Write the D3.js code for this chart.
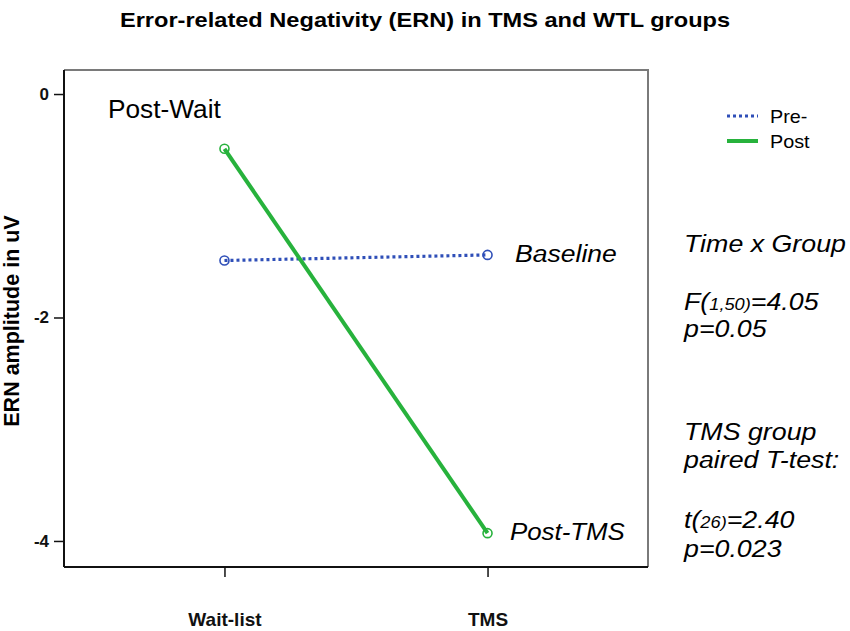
<!DOCTYPE html>
<html>
<head>
<meta charset="utf-8">
<script src="https://cdn.jsdelivr.net/npm/d3@7/dist/d3.min.js"></script>
<style>
  body { margin: 0; background: #fff; }
  svg { display: block; font-family: "Liberation Sans", Arial, Helvetica, sans-serif; }
</style>
</head>
<body>
<svg id="chart" width="850" height="631"></svg>
<script>
// data
var categories = ["Wait-list", "TMS"];
var preValues = [-1.49, -1.44];
var postValues = [-0.49, -3.93];
var yTicks = [0, -2, -4];

var series = [
  { name: "Pre-", values: preValues, color: "#2f4fb8", dash: "3,3", width: 3.2 },
  { name: "Post", values: postValues, color: "#27b23c", dash: null, width: 4 }
];

var svg = d3.select("#chart");
var frame = { left: 64, right: 648, top: 70, bottom: 567 };

var x = d3.scalePoint()
  .domain(categories)
  .range([frame.left, frame.right])
  .padding(0.61);

var y = d3.scaleLinear()
  .domain([-4.233, 0.215])
  .range([frame.bottom, frame.top]);

// text drawn with a slight horizontal stretch, like the source figure
var stretchText = function(g, px, py, sx, str) {
  return g.append("text")
    .attr("transform", "translate(" + px + "," + py + ") scale(" + sx + ",1)")
    .text(str);
};

// title
stretchText(svg, 425, 27, 1.18, "Error-related Negativity (ERN) in TMS and WTL groups")
  .attr("text-anchor", "middle")
  .attr("font-weight", "bold")
  .attr("font-size", 20);

// grey box on top/right
svg.append("path")
  .attr("d", "M" + frame.left + "," + frame.top + "H" + frame.right + "V" + frame.bottom)
  .attr("fill", "none")
  .attr("stroke", "#7a7a7a")
  .attr("stroke-width", 2);

// axes
var yAxis = d3.axisLeft(y).tickValues(yTicks).tickSize(10).tickPadding(5)
  .tickFormat(function(d) { return String(d); });   // plain hyphen, as in the source
var gy = svg.append("g")
  .attr("transform", "translate(" + frame.left + ",0)")
  .call(yAxis);
gy.select(".domain").attr("d", "M0," + frame.top + "V" + frame.bottom)
  .attr("stroke", "#111").attr("stroke-width", 2);
gy.selectAll(".tick line").attr("stroke", "#111").attr("stroke-width", 1.5);
gy.selectAll(".tick text")
  .attr("font-size", 17)
  .attr("font-weight", "bold")
  .attr("fill", "#111")
  .attr("font-family", "\"Liberation Sans\", Arial, sans-serif");

var xAxis = d3.axisBottom(x).tickSize(10).tickPadding(36);
var gx = svg.append("g")
  .attr("transform", "translate(0," + frame.bottom + ")")
  .call(xAxis);
gx.select(".domain").attr("d", "M" + frame.left + ",0H" + frame.right)
  .attr("stroke", "#111").attr("stroke-width", 2);
gx.selectAll(".tick line").attr("stroke", "#111").attr("stroke-width", 1.5);
gx.selectAll(".tick text")
  .attr("font-size", 19)
  .attr("font-weight", "bold")
  .attr("fill", "#111")
  .attr("font-family", "\"Liberation Sans\", Arial, sans-serif");

// y axis title
svg.append("text")
  .attr("transform", "translate(19,321) rotate(-90)")
  .attr("text-anchor", "middle")
  .attr("font-weight", "bold")
  .attr("font-size", 21.5)
  .text("ERN amplitude in uV");

// lines + open markers
var line = d3.line()
  .x(function(d, i) { return x(categories[i]); })
  .y(function(d) { return y(d); });

series.forEach(function(s) {
  svg.append("path")
    .datum(s.values)
    .attr("d", line)
    .attr("fill", "none")
    .attr("stroke", s.color)
    .attr("stroke-width", s.width)
    .attr("stroke-dasharray", s.dash);

  svg.selectAll("circle.m-" + s.name)
    .data(s.values)
    .enter().append("circle")
    .attr("cx", function(d, i) { return x(categories[i]); })
    .attr("cy", function(d) { return y(d); })
    .attr("r", 4.5)
    .attr("fill", "none")
    .attr("stroke", s.color)
    .attr("stroke-width", 1.6);
});

// legend
var legend = svg.append("g").attr("transform", "translate(727,116)");
series.forEach(function(s, i) {
  var row = legend.append("g").attr("transform", "translate(0," + (i * 25) + ")");
  row.append("line")
    .attr("x1", 0).attr("x2", 31)
    .attr("stroke", s.color)
    .attr("stroke-width", s.width)
    .attr("stroke-dasharray", s.dash);
  stretchText(row, 43, 7, 1.1, s.name).attr("font-size", 18);
});

// labels inside the plot
stretchText(svg, 108, 118, 1.05, "Post-Wait").attr("font-size", 25);
stretchText(svg, 515, 262, 1.13, "Baseline").attr("font-size", 23.5).attr("font-style", "italic");
stretchText(svg, 510, 540, 1.1, "Post-TMS").attr("font-size", 23.5).attr("font-style", "italic");

// statistics block at the right
var stats = [
  { y: 252, parts: [["Time x Group", 23.5]] },
  { y: 310, parts: [["F(", 23.5], ["1,50)", 16], ["=4.05", 23.5]] },
  { y: 337, parts: [["p=0.05", 23.5]] },
  { y: 440, parts: [["TMS group", 23.5]] },
  { y: 468, parts: [["paired T-test:", 23.5]] },
  { y: 528, parts: [["t(", 23.5], ["26)", 16], ["=2.40", 23.5]] },
  { y: 557, parts: [["p=0.023", 23.5]] }
];
stats.forEach(function(row) {
  var t = svg.append("text")
    .attr("transform", "translate(684," + row.y + ") scale(1.14,1)")
    .attr("font-style", "italic");
  row.parts.forEach(function(p) {
    t.append("tspan").attr("font-size", p[1]).text(p[0]);
  });
});
</script>
</body>
</html>
